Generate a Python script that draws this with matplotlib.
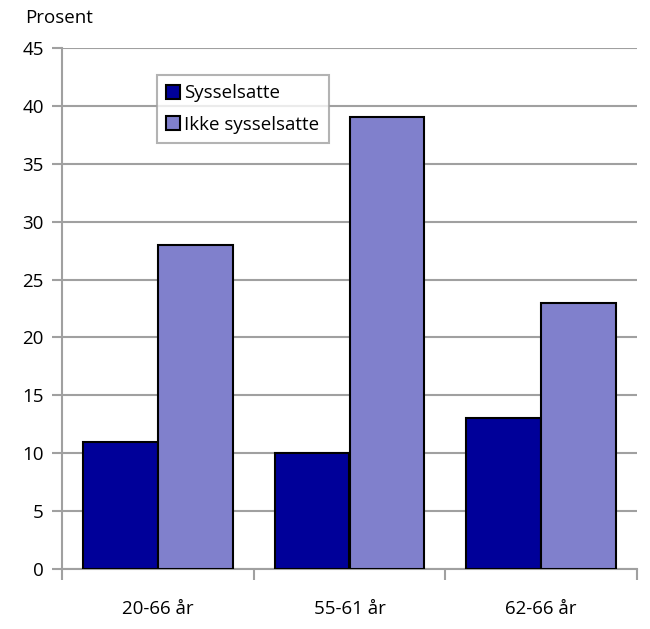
import numpy as np
import matplotlib.pyplot as plt

plt.rcParams['font.family'] = ['Open Sans', 'DejaVu Sans']

# --- data ---
categories = ["20-66 år", "55-61 år", "62-66 år"]
sysselsatte = [11, 10, 13]
ikke_sysselsatte = [28, 39, 23]
series_names = ["Sysselsatte", "Ikke sysselsatte"]

DARK = "#000099"
LIGHT = "#8080cc"
GRID = "#a0a0a0"
FS = 13.5

fig = plt.figure(figsize=(6.5, 6.29), dpi=100)
ax = fig.add_axes([62 / 650, 1 - 569 / 629, 575 / 650, 521 / 629])

x = np.arange(len(categories))
w = 0.39
ax.bar(x - w / 2, sysselsatte, w, color=DARK, edgecolor="black", linewidth=1.5,
       label=series_names[0], zorder=3)
ax.bar(x + w / 2, ikke_sysselsatte, w, color=LIGHT, edgecolor="black", linewidth=1.5,
       label=series_names[1], zorder=3)

ax.set_xlim(-0.5, len(categories) - 0.5)
ax.set_ylim(0, 45)
ax.set_yticks(np.arange(0, 50, 5))
ax.yaxis.grid(True, color=GRID, linewidth=1.5, zorder=0)

# x ticks at category boundaries, labels centred
ax.set_xticks(np.arange(-0.5, len(categories), 1.0))
ax.set_xticklabels([])
ax.set_xticks(x, minor=True)
ax.set_xticklabels(categories, minor=True)
ax.tick_params(axis="x", which="major", length=8, width=1.5, color=GRID)
ax.tick_params(axis="x", which="minor", length=0, pad=22, labelsize=FS)
ax.tick_params(axis="y", length=7, width=1.5, color=GRID, labelsize=FS, pad=6)

for side in ["top", "right"]:
    ax.spines[side].set_visible(False)
for side in ["left", "bottom"]:
    ax.spines[side].set_color(GRID)
    ax.spines[side].set_linewidth(1.5)

fig.text(25 / 650, 1 - 18 / 629, "Prosent", fontsize=FS, va="center", ha="left")

leg = ax.legend(loc="upper left", bbox_to_anchor=(95 / 575, 1 - 27 / 521),
                borderaxespad=0, frameon=True, fancybox=False, fontsize=FS,
                handlelength=0.75, handleheight=0.75, handletextpad=0.2,
                borderpad=0.5, labelspacing=0.7)
leg.get_frame().set_edgecolor(GRID)
leg.get_frame().set_linewidth(1.5)
for h in leg.legend_handles:
    h.set_linewidth(1.5)

fig.savefig("out.png", dpi=100)
